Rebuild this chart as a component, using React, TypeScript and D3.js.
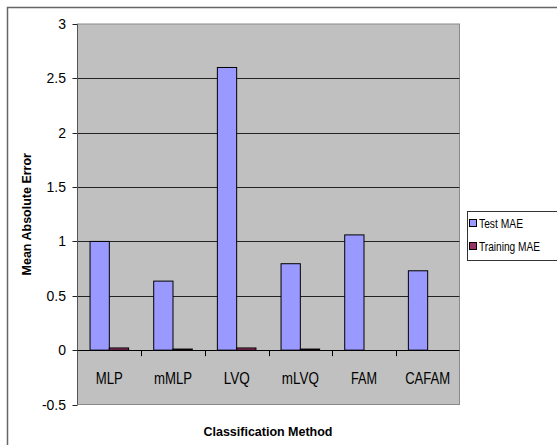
import React from "react";
import * as d3 from "d3";

const categories = ["MLP", "mMLP", "LVQ", "mLVQ", "FAM", "CAFAM"];
const seriesNames = ["Test MAE", "Training MAE"];
const testMAE = [1.0, 0.635, 2.6, 0.795, 1.06, 0.73];
const trainingMAE = [0.02, 0.01, 0.02, 0.01, 0, 0];
const yTicks = [-0.5, 0, 0.5, 1, 1.5, 2, 2.5, 3];
const colors = ["#9999FF", "#993366"];

const W = 557;
const H = 445;
const plot = { left: 77.5, right: 459.5, top: 24, bottom: 404.5 };
const font = "'Liberation Sans', Arial, sans-serif";

export default function App() {
  const y = d3.scaleLinear().domain([-0.5, 3]).range([plot.bottom, plot.top]);
  const x = d3.scaleBand<string>().domain(categories).range([plot.left, plot.right]).paddingInner(0).paddingOuter(0);
  const inner = d3
    .scaleBand<string>()
    .domain(seriesNames)
    .range([0, x.bandwidth()])
    .paddingInner(0)
    .paddingOuter(0.65);
  const seriesData = [testMAE, trainingMAE];
  const labelWidths: Record<string, number> = { MLP: 27, mMLP: 38, LVQ: 26, mLVQ: 37, FAM: 26, CAFAM: 45 };

  return (
    <svg width={W} height={H} style={{ position: "absolute", left: 0, top: 0, background: "#fff" }} fontFamily={font}>
      <rect x={7.5} y={7.5} width={W} height={H} fill="#fff" stroke="#666" strokeWidth={1.5} />
      <rect x={plot.left} y={plot.top} width={plot.right - plot.left} height={plot.bottom - plot.top} fill="#C0C0C0" stroke="#8a8a8a" strokeWidth={1} />
      {yTicks.filter((t) => t > -0.5 && t < 3 && t !== 0).map((t) => (
        <line key={"g" + t} x1={plot.left} x2={plot.right} y1={Math.round(y(t)) + 0.5} y2={Math.round(y(t)) + 0.5} stroke="#222" strokeWidth={1} />
      ))}
      {yTicks.map((t) => (
        <g key={"t" + t}>
          <line x1={plot.left - 5} x2={plot.left} y1={Math.round(y(t)) + 0.5} y2={Math.round(y(t)) + 0.5} stroke="#222" />
          <text x={66} y={y(t) + 5} textAnchor="end" fontSize={14} fill="#000">
            {String(t)}
          </text>
        </g>
      ))}
      <line x1={plot.left} x2={plot.left} y1={plot.top} y2={plot.bottom} stroke="#555" />
      {categories.map((c, i) => (
        <g key={c}>
          {seriesData.map((arr, s) => {
            const v = arr[i];
            if (v <= 0) return null;
            const bx = (x(c) as number) + (inner(seriesNames[s]) as number);
            return (
              <rect key={s} x={bx} y={y(v)} width={inner.bandwidth()} height={y(0) - y(v)} fill={colors[s]} stroke="#000" strokeWidth={1} />
            );
          })}
          <text
            x={(x(c) as number) + x.bandwidth() / 2}
            y={384}
            textAnchor="middle"
            fontSize={16}
            textLength={labelWidths[c]}
            lengthAdjust="spacingAndGlyphs"
            fill="#000"
          >
            {c}
          </text>
        </g>
      ))}
      <line x1={plot.left} x2={plot.right} y1={Math.round(y(0)) + 0.5} y2={Math.round(y(0)) + 0.5} stroke="#000" strokeWidth={1} />
      {categories.slice(1).map((c) => (
        <line key={"xt" + c} x1={Math.round(x(c) as number) + 0.5} x2={Math.round(x(c) as number) + 0.5} y1={y(0)} y2={y(0) + 6} stroke="#000" />
      ))}
      <text
        transform={`translate(31, ${(plot.top + plot.bottom) / 2}) rotate(-90)`}
        textAnchor="middle"
        fontSize={12.5}
        fontWeight="bold"
        fill="#000"
      >
        Mean Absolute Error
      </text>
      <text x={268} y={436} textAnchor="middle" fontSize={12.5} fontWeight="bold" textLength={129} lengthAdjust="spacingAndGlyphs" fill="#000">
        Classification Method
      </text>
      <rect x={467.5} y={211.5} width={100} height={49} fill="#fff" stroke="#333" strokeWidth={1} />
      {seriesNames.map((s, i) => (
        <g key={s}>
          <rect x={469.5} y={219.5 + i * 23} width={7} height={7} fill={colors[i]} stroke="#000" />
          <text x={479} y={228 + i * 23} fontSize={12.5} fill="#000" textLength={i === 0 ? 44 : 61} lengthAdjust="spacingAndGlyphs">
            {s}
          </text>
        </g>
      ))}
    </svg>
  );
}
